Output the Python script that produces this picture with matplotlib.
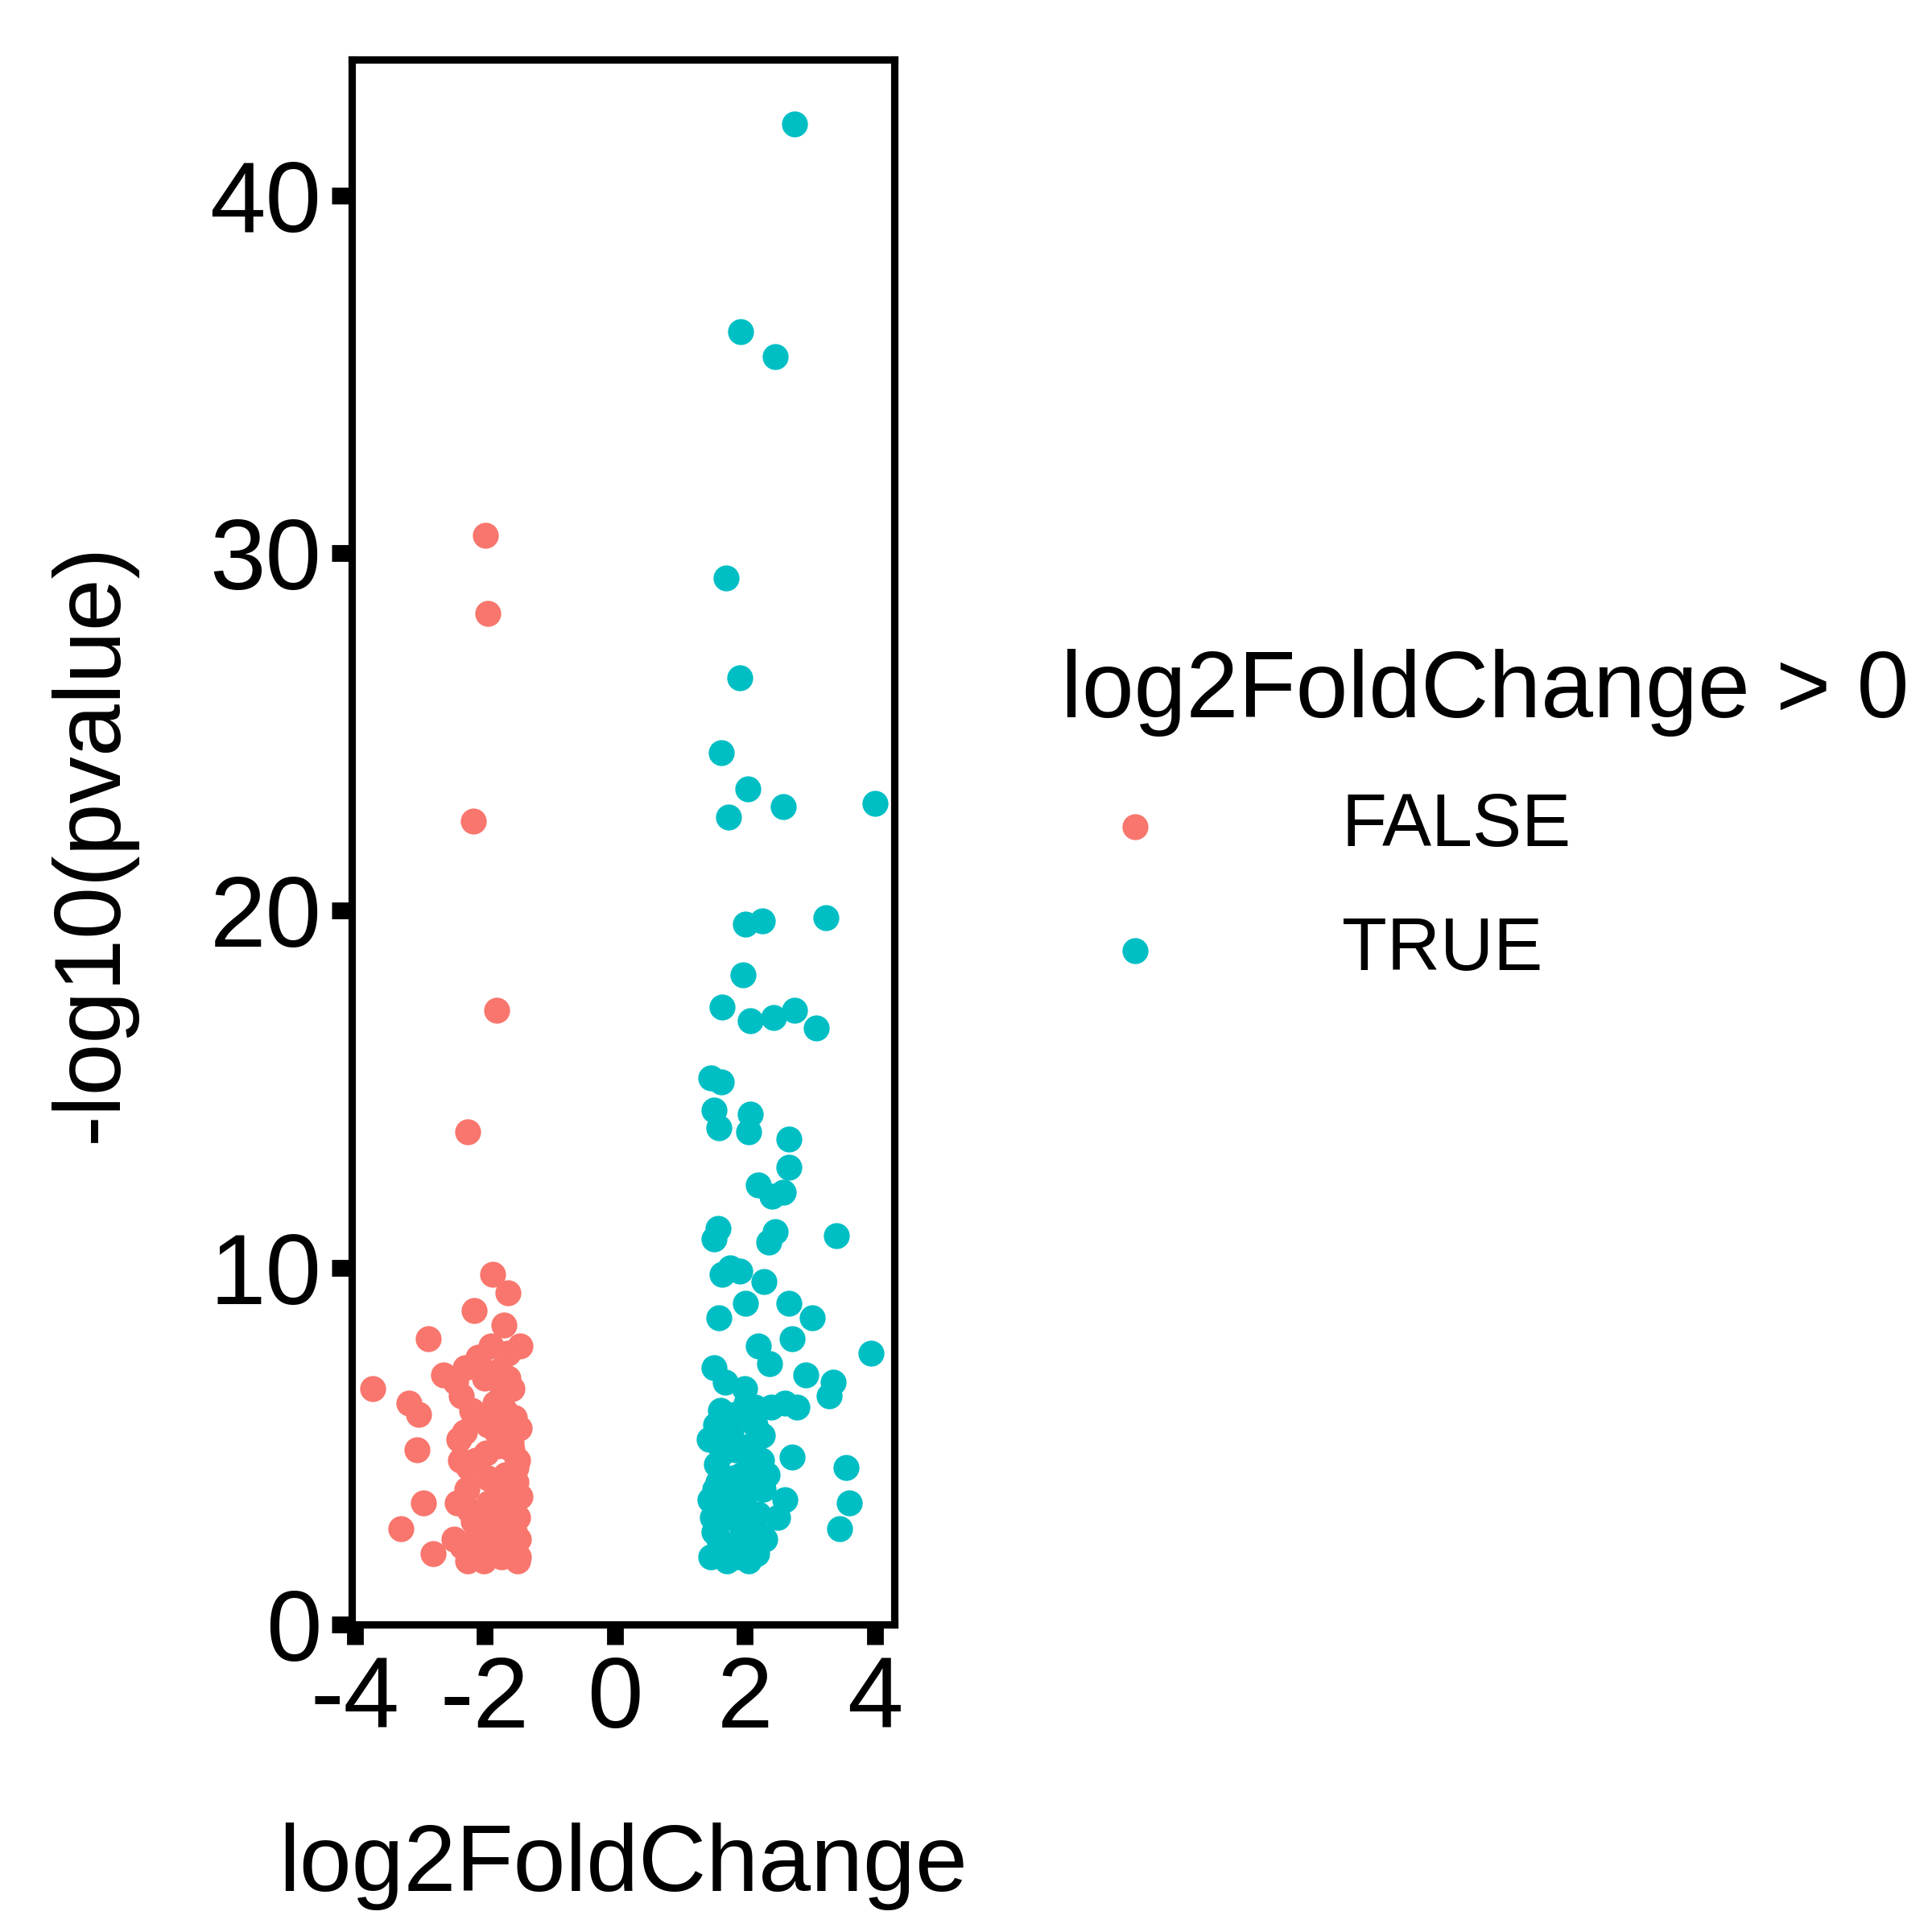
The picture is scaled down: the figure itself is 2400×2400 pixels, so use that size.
import numpy as np
import matplotlib.pyplot as plt

plt.rcParams['font.family'] = ['Liberation Sans', 'DejaVu Sans']

# log2FoldChange <= 0 (FALSE)
neg_x = [-1.99, -1.95, -2.18, -1.82, -2.27, -1.88, -1.65, -2.87, -3.72, -3.17, -3.02, -3.04,
         -3.29, -2.95, -2.80, -2.16, -1.71, -1.46, -2.63,
         -2.45, -2.40, -2.30, -2.25, -2.20, -2.10, -2.05, -2.00, -1.95, -1.90, -1.85, -1.80,
         -1.75, -1.70, -1.65, -1.60, -1.55, -1.50, -1.48, -2.35, -2.28, -2.12, -1.98, -1.88,
         -1.78, -1.68, -1.58, -1.52, -2.42, -2.32, -2.22, -2.08, -1.92, -1.82, -1.72, -1.62,
         -1.56, -2.38, -2.18, -2.02, -1.86, -1.74, -1.60, -1.50, -2.26, -2.14, -1.96, -1.84,
         -1.66, -1.54, -2.48, -2.36, -2.16, -1.94, -1.76, -1.64, -1.52, -2.24, -2.04, -1.90,
         -1.50, -1.46, -1.52, -1.48, -1.55, -1.47, -1.58, -1.62, -1.70, -1.80]
neg_y = [30.5, 28.3, 22.5, 17.2, 13.8, 9.8, 9.3, 8.0, 6.6, 6.2, 5.9, 4.9,
         2.7, 3.4, 2.0, 8.8, 8.4, 7.8, 7.0,
         6.8, 5.2, 7.2, 4.4, 6.0, 7.5, 3.1, 6.9, 5.6, 7.8, 4.0, 7.1,
         6.4, 5.0, 7.6, 3.6, 5.8, 4.6, 2.4, 2.2, 3.8, 2.6, 4.8, 3.0,
         2.2, 4.2, 6.6, 2.0, 3.4, 5.4, 1.9, 2.0, 2.8, 5.4, 3.2, 2.0,
         3.8, 4.6, 2.9, 1.8, 2.2, 1.9, 5.1, 1.8, 1.8, 4.6, 4.1, 6.2,
         2.6, 3.0, 2.4, 6.4, 5.8, 3.4, 3.5, 6.9, 4.4, 3.2, 2.5, 2.4,
         3.0, 3.6, 4.0, 1.9, 2.6, 5.5, 4.9, 3.9, 6.0, 5.0]

# log2FoldChange > 0 (TRUE)
pos_x = [2.76, 1.93, 2.46, 1.71, 1.92, 1.63, 2.05, 2.59, 4.00, 1.75, 2.01, 2.27, 3.25, 1.97,
         1.65, 2.08, 2.44, 2.76, 3.10, 1.48, 1.63, 1.52, 1.60, 2.08, 2.06, 2.67, 2.68, 2.20,
         2.41, 2.59, 2.46, 2.36, 1.52, 1.58, 3.40, 1.77, 1.65, 1.92, 2.29, 2.01, 2.68, 3.04,
         1.60, 2.72, 3.94, 1.52, 2.20, 2.38, 2.93, 3.36, 3.29, 2.80, 2.61, 2.72, 3.55, 3.61,
         3.46, 2.61, 2.27,
         1.45, 1.50, 1.55, 1.60, 1.65, 1.70, 1.75, 1.80, 1.85, 1.90, 1.95, 2.00, 2.05, 2.10,
         2.15, 2.20, 2.25, 2.30, 1.48, 1.58, 1.68, 1.78, 1.88, 1.98, 2.08, 2.18, 2.28, 1.52,
         1.62, 1.72, 1.82, 1.92, 2.02, 2.12, 2.22, 1.46, 1.56, 1.66, 1.76, 1.86, 1.96, 2.06,
         2.16, 2.40, 2.50, 1.54, 1.74, 1.94, 2.14, 2.34]
pos_y = [42.0, 36.2, 35.5, 29.3, 26.5, 24.4, 23.4, 22.9, 23.0, 22.6, 19.6, 19.7, 19.8, 18.2,
         17.3, 16.9, 17.0, 17.2, 16.7, 15.3, 15.2, 14.4, 13.9, 14.3, 13.8, 13.6, 12.8, 12.3,
         12.0, 12.1, 11.0, 10.7, 10.8, 11.1, 10.9, 10.0, 9.8, 9.9, 9.6, 9.0, 9.0, 8.6,
         8.6, 8.0, 7.6, 7.2, 7.8, 7.3, 7.0, 6.8, 6.4, 6.1, 6.2, 4.7, 4.4, 3.4,
         2.7, 3.5, 5.3,
         5.2, 3.0, 5.6, 2.4, 4.8, 6.8, 2.0, 3.6, 5.9, 2.2, 4.2, 6.6, 2.8, 4.4,
         6.1, 3.1, 4.6, 2.4, 1.9, 4.0, 3.2, 5.4, 1.9, 3.4, 5.0, 2.0, 3.8, 2.6,
         6.0, 1.8, 4.1, 2.9, 6.2, 3.9, 2.5, 3.5, 4.5, 2.2, 5.8, 4.9, 2.7, 1.8,
         5.6, 6.1, 3.0, 3.8, 3.0, 3.6, 2.3, 4.2]

fig = plt.figure(figsize=(8, 8), dpi=300)
ax = fig.add_axes([0.182, 0.159, 0.281, 0.81])

ax.scatter(neg_x, neg_y, s=60, color='#F8766D', linewidths=0, label='FALSE', zorder=3)
ax.scatter(pos_x, pos_y, s=60, color='#00BFC4', linewidths=0, label='TRUE', zorder=3)

ax.set_xlim(-4.05, 4.3)
ax.set_ylim(0, 43.8)
ax.set_xticks([-4, -2, 0, 2, 4])
ax.set_xticklabels(['-4', '-2', '0', '2', '4'])
ax.set_yticks([0, 10, 20, 30, 40])
for s in ax.spines.values():
    s.set_linewidth(2.2)
ax.tick_params(labelsize=30, length=6, width=5, pad=3)
ax.set_xlabel('log2FoldChange', fontsize=28, labelpad=22)
ax.set_ylabel('-log10(pvalue)', fontsize=28, labelpad=22)

leg = fig.legend(loc='center left', bbox_to_anchor=(0.515, 0.577), frameon=False,
                 title='log2FoldChange > 0', title_fontsize=28, fontsize=22,
                 markerscale=1.0, handletextpad=1.8, labelspacing=0.75)
leg._legend_box.align = 'left'

fig.savefig('out.png')
